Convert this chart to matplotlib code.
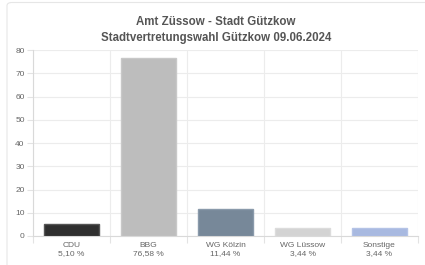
"""Stadtvertretungswahl Gützkow 2024 - Stimmenanteile als Balkendiagramm."""

import matplotlib
matplotlib.use("Agg")
import matplotlib.pyplot as plt
from matplotlib.patches import FancyBboxPatch

PARTIES = ["CDU", "BBG", "WG Kölzin", "WG Lüssow", "Sonstige"]
SHARES = [5.10, 76.58, 11.44, 3.44, 3.44]
COLORS = ["#2f2f2f", "#bdbdbd", "#778899", "#d3d3d3", "#a8b9e0"]
EDGES = ["#555555", "#c8c8c8", "#8a9aab", "#dcdcdc", "#b4c3e6"]
TITLE = "Amt Züssow - Stadt Gützkow\nStadtvertretungswahl Gützkow 09.06.2024"

plt.rcParams["font.family"] = ["Liberation Sans", "DejaVu Sans"]

fig = plt.figure(figsize=(4.25, 2.65), dpi=100)
# card border: only the top and left edges are visible in the crop
card = FancyBboxPatch((7 / 425, -0.2), 1.2, 0.2 + 262.5 / 265,
                      boxstyle="round,pad=0,rounding_size=0.012",
                      transform=fig.transFigure, facecolor="white",
                      edgecolor="#e6e6e6", linewidth=0.8, zorder=-10)
fig.patches.append(card)
ax = fig.add_axes([33 / 425, 29 / 265, 385 / 425, 186 / 265])
ax.set_facecolor("none")

x = list(range(len(PARTIES)))
ax.bar(x, SHARES, width=0.72, color=COLORS, edgecolor=EDGES, linewidth=1.0,
       zorder=3)

ax.set_xlim(-0.5, len(PARTIES) - 0.5)
ax.set_ylim(0, 80)
ax.set_yticks(range(0, 81, 10))
ax.set_xticks([i - 0.5 for i in range(len(PARTIES) + 1)], minor=False)
ax.set_xticklabels([])
ax.set_xticks(x, minor=True)
ax.set_xticklabels([f"{p}\n{s:.2f} %".replace(".", ",")
                    for p, s in zip(PARTIES, SHARES)], minor=True)

ax.tick_params(axis="x", which="major", length=5, color="#e3e3e3", width=0.8)
ax.tick_params(axis="x", which="minor", length=0, pad=4, labelsize=6,
               labelcolor="#666666")
ax.tick_params(axis="y", length=4, color="#e3e3e3", width=0.8, pad=2,
               labelsize=6, labelcolor="#666666")

ax.grid(True, which="major", color="#ececec", linewidth=0.8, zorder=0)
for side in ["top", "right"]:
    ax.spines[side].set_visible(False)
ax.spines["left"].set_color("#d9d9d9")
ax.spines["bottom"].set_color("#d9d9d9")

fig.text(0.508, 0.835, TITLE, ha="center", va="bottom", fontsize=8.3,
         fontweight="bold", color="#555555", linespacing=1.45)

plt.savefig("out.png", dpi=100)
plt.close()
